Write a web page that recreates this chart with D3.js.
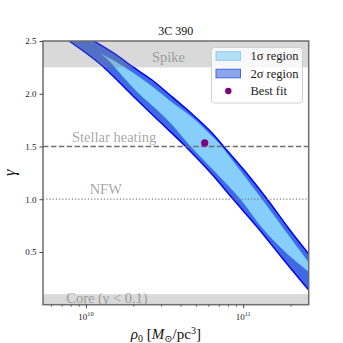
<!DOCTYPE html>
<html>
<head>
<meta charset="utf-8">
<script src="https://cdn.jsdelivr.net/npm/d3@7"></script>
<style>
  html, body { margin: 0; padding: 0; background: #fff; }
  svg text { font-family: "Liberation Serif", "DejaVu Serif", serif; }
</style>
</head>
<body>
<div id="chart"></div>
<script>
'use strict';

// axis ranges and ticks
const rhoRange = [5.33e9, 2.61e11];
const gammaRange = [0, 2.5];
const gammaTicks = [0.5, 1.0, 1.5, 2.0, 2.5];
const rhoMajorTicks = [1e10, 1e11];
const rhoMinorTicks = [6e9, 7e9, 8e9, 9e9, 2e10, 3e10, 4e10, 5e10, 6e10, 7e10, 8e10, 9e10, 2e11];

// 2 sigma contour, [rho0, gamma]
const outerUpper = [
    [1.125e10, 2.50], [1.53e10, 2.377], [1.99e10, 2.254], [2.63e10, 2.130],
    [3.53e10, 1.970], [4.73e10, 1.808], [6.34e10, 1.628], [7.55e10, 1.495],
    [1.012e11, 1.277], [1.418e11, 1.002], [1.958e11, 0.718], [2.61e11, 0.481]
];
const outerLower = [
    [7.80e9, 2.50], [1.228e10, 2.282], [1.99e10, 1.979], [2.96e10, 1.732],
    [4.27e10, 1.505], [6.15e10, 1.258], [8.62e10, 1.002], [1.243e11, 0.727],
    [1.792e11, 0.433], [2.61e11, 0.139]
];

// 1 sigma contour, starts at its tip
const innerUpper = [
    [1.228e10, 2.386], [1.53e10, 2.310], [1.99e10, 2.202], [2.63e10, 2.073],
    [3.53e10, 1.920], [4.73e10, 1.779], [6.34e10, 1.599], [7.02e10, 1.533],
    [9.55e10, 1.277], [1.318e11, 1.002], [1.82e11, 0.718], [2.61e11, 0.405]
];
const innerLower = [
    [1.228e10, 2.386], [1.422e10, 2.301], [1.72e10, 2.159], [2.21e10, 1.988],
    [2.83e10, 1.846], [3.53e10, 1.704], [4.59e10, 1.505], [6.62e10, 1.258],
    [9.55e10, 1.002], [1.318e11, 0.727], [1.846e11, 0.500], [2.61e11, 0.310]
];

const bestFit = [5.69e10, 1.534];

const spikeBand = [2.25, 2.5];
const coreBand = [0, 0.1];
const stellarHeating = 1.5;
const nfw = 1.0;

const W = 343, H = 343;
const margin = {left: 43, right: 343 - 308.7, top: 41, bottom: 343 - 304.7};

const svg = d3.select('#chart').append('svg')
    .attr('width', W)
    .attr('height', H);

const x = d3.scaleLog().domain(rhoRange).range([margin.left, W - margin.right]);
const y = d3.scaleLinear().domain(gammaRange).range([H - margin.bottom, margin.top]);

svg.append('clipPath').attr('id', 'plotclip')
    .append('rect')
    .attr('x', x.range()[0]).attr('y', y.range()[1])
    .attr('width', x.range()[1] - x.range()[0])
    .attr('height', y.range()[0] - y.range()[1]);

const plot = svg.append('g').attr('clip-path', 'url(#plotclip)');

const curve = d3.line()
    .x(function (d) { return x(d[0]); })
    .y(function (d) { return y(d[1]); })
    .curve(d3.curveCatmullRom);

function region(upper, lower) {
    // closed shape: upper boundary out, lower boundary back
    return curve(upper) + curve(lower.slice().reverse()).replace(/^M/, 'L') + 'Z';
}

// filled contours
plot.append('path')
    .attr('d', region(outerUpper, outerLower))
    .attr('fill', '#4169e1');
plot.append('path')
    .attr('d', region(innerUpper, innerLower))
    .attr('fill', '#87cefa')
    .attr('stroke', '#1e90ff')
    .attr('stroke-width', 0.8)
    .attr('stroke-opacity', 0.7);
[outerUpper, outerLower].forEach(function (edge) {
    plot.append('path')
        .attr('d', curve(edge))
        .attr('fill', 'none')
        .attr('stroke', '#0000ff')
        .attr('stroke-width', 1.5);
});

// shaded bands
[spikeBand, coreBand].forEach(function (b) {
    plot.append('rect')
        .attr('x', x.range()[0])
        .attr('width', x.range()[1] - x.range()[0])
        .attr('y', y(b[1]))
        .attr('height', y(b[0]) - y(b[1]))
        .attr('fill', 'gray')
        .attr('fill-opacity', 0.3);
});

// reference lines
plot.append('line')
    .attr('x1', x.range()[0]).attr('x2', x.range()[1])
    .attr('y1', y(stellarHeating)).attr('y2', y(stellarHeating))
    .attr('stroke', '#707070').attr('stroke-width', 1.5)
    .attr('stroke-dasharray', '5.5,2.4');
plot.append('line')
    .attr('x1', x.range()[0]).attr('x2', x.range()[1])
    .attr('y1', y(nfw)).attr('y2', y(nfw))
    .attr('stroke', '#808080').attr('stroke-width', 1.2)
    .attr('stroke-dasharray', '1.2,2');

// region labels
const labels = [
    {text: 'Spike', rho: 3.35e10, g: 2.30},
    {text: 'Stellar heating', rho: 1.51e10, g: 1.545},
    {text: 'NFW', rho: 1.336e10, g: 1.052},
    {text: 'Core (γ < 0.1)', rho: 1.36e10, g: 0.019}
];
labels.forEach(function (l) {
    plot.append('text')
        .attr('x', x(l.rho))
        .attr('y', y(l.g))
        .attr('text-anchor', 'middle')
        .attr('font-size', 14.5)
        .attr('fill', 'gray')
        .attr('fill-opacity', 0.7)
        .text(l.text);
});

// best fit point
plot.append('circle')
    .attr('cx', x(bestFit[0]))
    .attr('cy', y(bestFit[1]))
    .attr('r', 3.6)
    .attr('fill', '#800080');

// spines
svg.append('rect')
    .attr('x', x.range()[0]).attr('y', y.range()[1])
    .attr('width', x.range()[1] - x.range()[0])
    .attr('height', y.range()[0] - y.range()[1])
    .attr('fill', 'none')
    .attr('stroke', '#6e6e6e')
    .attr('stroke-width', 1.5);

// y axis
const yAxis = svg.append('g')
    .attr('transform', 'translate(' + x.range()[0] + ',0)')
    .call(d3.axisLeft(y).tickValues(gammaTicks).tickFormat(d3.format('.1f')).tickSize(3.5).tickPadding(3));
yAxis.select('.domain').remove();
yAxis.selectAll('.tick line').attr('stroke', '#444').attr('stroke-width', 1);
yAxis.selectAll('.tick text').attr('font-size', 9).attr('fill', '#222')
    .style('font-family', '"Liberation Serif", serif');

// x axis, log ticks
const xAxis = svg.append('g')
    .attr('transform', 'translate(0,' + y.range()[0] + ')')
    .call(d3.axisBottom(x).tickValues(rhoMajorTicks).tickFormat('').tickSize(3.5));
xAxis.select('.domain').remove();
xAxis.selectAll('.tick line').attr('stroke', '#444').attr('stroke-width', 1);
const xMinor = svg.append('g')
    .attr('transform', 'translate(0,' + y.range()[0] + ')')
    .call(d3.axisBottom(x).tickValues(rhoMinorTicks).tickFormat('').tickSize(2));
xMinor.select('.domain').remove();
xMinor.selectAll('.tick line').attr('stroke', '#444').attr('stroke-width', 0.8);

rhoMajorTicks.forEach(function (v) {
    const t = svg.append('text')
        .attr('x', x(v))
        .attr('y', y.range()[0] + 15)
        .attr('text-anchor', 'middle')
        .attr('font-size', 9)
        .attr('fill', '#222');
    t.append('tspan').text('10');
    t.append('tspan').attr('dy', -3.5).attr('font-size', 6.3).text(String(Math.round(Math.log10(v))));
});

// title and axis labels
svg.append('text')
    .attr('x', (x.range()[0] + x.range()[1]) / 2)
    .attr('y', 35)
    .attr('text-anchor', 'middle')
    .attr('font-size', 12)
    .attr('fill', '#111')
    .text('3C 390');

svg.append('text')
    .attr('transform', 'translate(15,' + ((y.range()[0] + y.range()[1]) / 2) + ') rotate(-90)')
    .attr('text-anchor', 'middle')
    .attr('font-size', 16)
    .attr('font-style', 'italic')
    .attr('fill', '#111')
    .text('γ');

const xl = svg.append('text')
    .attr('x', (x.range()[0] + x.range()[1]) / 2 - 10)
    .attr('y', 339)
    .attr('text-anchor', 'middle')
    .attr('font-size', 15)
    .attr('fill', '#111');
xl.append('tspan').attr('font-style', 'italic').text('ρ');
xl.append('tspan').attr('font-size', 10).attr('dy', 3).text('0');
xl.append('tspan').attr('dy', -3).text(' [');
xl.append('tspan').attr('font-style', 'italic').text('M');
xl.append('tspan').attr('font-size', 10).attr('dy', 3).text('⊙');
xl.append('tspan').attr('dy', -3).text('/pc');
xl.append('tspan').attr('font-size', 10).attr('dy', -5).text('3');
xl.append('tspan').attr('dy', 5).text(']');

// legend
const legend = svg.append('g').attr('transform', 'translate(211.5,47.5)');
legend.append('rect')
    .attr('width', 91).attr('height', 55.5)
    .attr('rx', 3)
    .attr('fill', '#fff').attr('fill-opacity', 0.8)
    .attr('stroke', '#d0d0d0').attr('stroke-width', 1);
const legendItems = [
    {label: '1σ region', kind: 'patch', color: '#87cefa'},
    {label: '2σ region', kind: 'patch', color: '#4169e1'},
    {label: 'Best fit', kind: 'dot', color: '#800080'}
];
legendItems.forEach(function (it, i) {
    const yy = 8.5 + i * 17.5;
    if (it.kind === 'patch') {
        legend.append('rect')
            .attr('x', 4.5).attr('y', yy - 4.3)
            .attr('width', 24.5).attr('height', 8.6)
            .attr('fill', it.color).attr('fill-opacity', 0.6)
            .attr('stroke', it.color).attr('stroke-width', 1);
    } else {
        legend.append('circle')
            .attr('cx', 16.8).attr('cy', yy)
            .attr('r', 3.2)
            .attr('fill', it.color);
    }
    legend.append('text')
        .attr('x', 39)
        .attr('y', yy + 4)
        .attr('font-size', 12.5)
        .attr('fill', '#222')
        .text(it.label);
});
</script>
</body>
</html>
